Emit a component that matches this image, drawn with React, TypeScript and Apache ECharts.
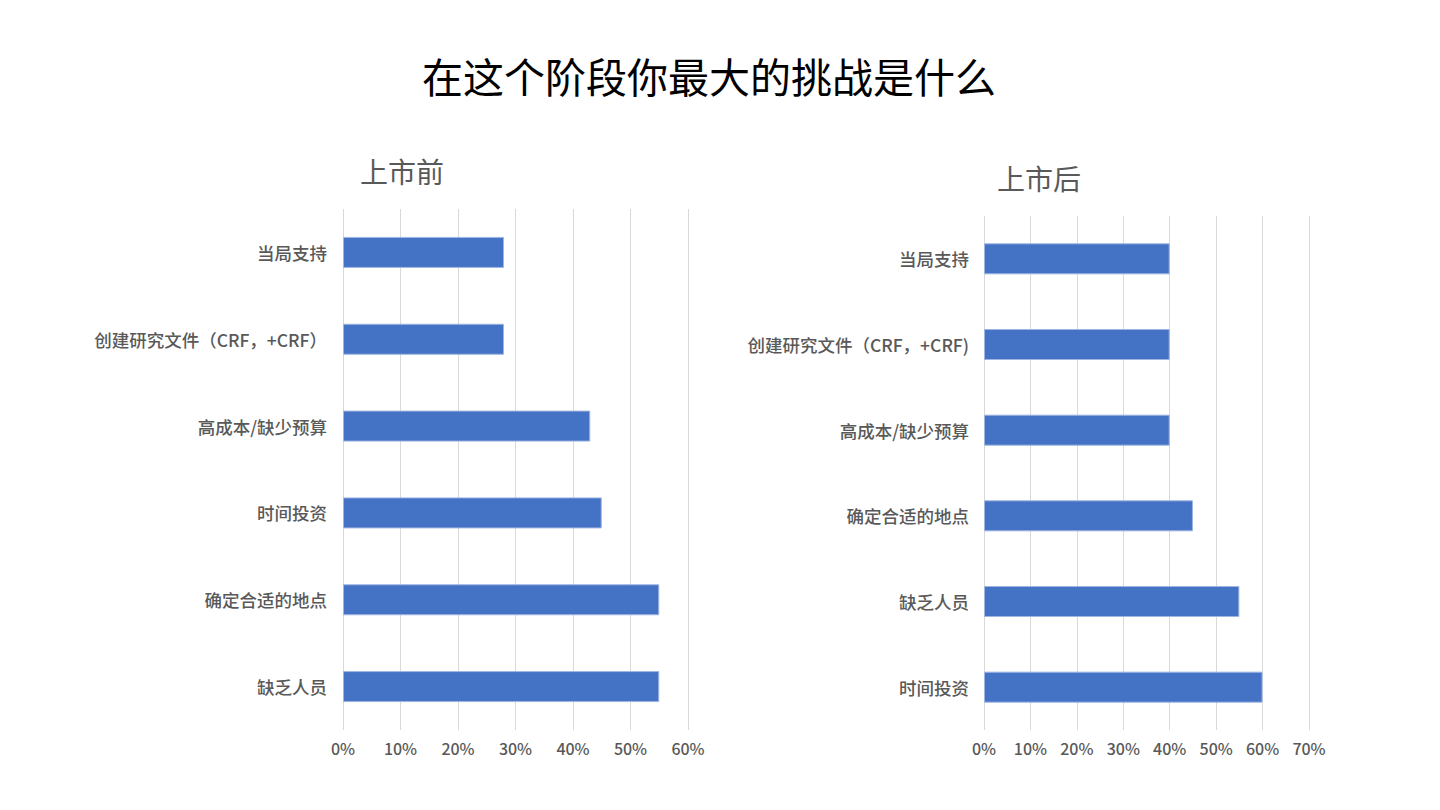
import React, { useEffect, useRef } from "react";
import * as echarts from "echarts";

const mainTitle = "在这个阶段你最大的挑战是什么";
const leftTitle = "上市前";
const rightTitle = "上市后";

// top to bottom
const leftCategories = ["当局支持", "创建研究文件（CRF，+CRF）", "高成本/缺少预算", "时间投资", "确定合适的地点", "缺乏人员"];
const leftValues = [28, 28, 43, 45, 55, 55];
const leftMax = 60;

const rightCategories = ["当局支持", "创建研究文件（CRF，+CRF)", "高成本/缺少预算", "确定合适的地点", "缺乏人员", "时间投资"];
const rightValues = [40, 40, 40, 45, 55, 60];
const rightMax = 70;

const FONT = "'Noto Sans CJK SC', 'Noto Sans', sans-serif";
const BAR = "#4472C4";
const GRAY = "#595959";

export default function App() {
  const ref = useRef<HTMLDivElement>(null);
  useEffect(() => {
    if (!ref.current) return;
    const chart = echarts.init(ref.current, undefined, { renderer: "svg" });
    const xAxisBase = (max: number, gridIndex: number) => ({
      type: "value" as const,
      gridIndex,
      min: 0,
      max,
      interval: 10,
      axisLine: { show: false },
      axisTick: { show: false },
      splitLine: { show: true, lineStyle: { color: "#d9d9d9", width: 1 } },
      axisLabel: {
        formatter: (v: number) => v + "%",
        color: GRAY,
        fontSize: 16,
        fontWeight: 500,
        fontFamily: FONT,
        margin: 10,
      },
    });
    const yAxisBase = (cats: string[], gridIndex: number, margin: number) => ({
      type: "category" as const,
      gridIndex,
      data: cats,
      inverse: true,
      axisLine: { show: false },
      axisTick: { show: false },
      splitLine: { show: false },
      axisLabel: {
        color: GRAY,
        fontSize: 17.5,
        fontWeight: 500,
        fontFamily: FONT,
        margin,
      },
    });
    const barStyle = { color: BAR, borderColor: "#9fb5e2", borderWidth: 1 };
    chart.setOption({
      animation: false,
      backgroundColor: "#ffffff",
      grid: [
        { left: 343, top: 209, width: 345, height: 521, containLabel: false },
        { left: 984, top: 216, width: 325, height: 514, containLabel: false },
      ],
      xAxis: [xAxisBase(leftMax, 0), xAxisBase(rightMax, 1)],
      yAxis: [yAxisBase(leftCategories, 0, 16), yAxisBase(rightCategories, 1, 15)],
      series: [
        { type: "bar", xAxisIndex: 0, yAxisIndex: 0, data: leftValues, barWidth: 31, itemStyle: barStyle },
        { type: "bar", xAxisIndex: 1, yAxisIndex: 1, data: rightValues, barWidth: 31, itemStyle: barStyle },
      ],
      graphic: [
        {
          type: "text",
          x: 709,
          y: 75,
          style: {
            text: mainTitle,
            fill: "#000000",
            font: `41px ${FONT}`,
            textAlign: "center",
            textVerticalAlign: "middle",
          },
        },
        {
          type: "text",
          x: 360,
          y: 171,
          style: {
            text: leftTitle,
            fill: GRAY,
            font: `28px ${FONT}`,
            textAlign: "left",
            textVerticalAlign: "middle",
          },
        },
        {
          type: "text",
          x: 997,
          y: 178,
          style: {
            text: rightTitle,
            fill: GRAY,
            font: `28px ${FONT}`,
            textAlign: "left",
            textVerticalAlign: "middle",
          },
        },
      ],
    });
    return () => chart.dispose();
  }, []);
  return (
    <div
      ref={ref}
      style={{ position: "absolute", left: 0, top: 0, width: 1440, height: 810, background: "#fff" }}
    />
  );
}
